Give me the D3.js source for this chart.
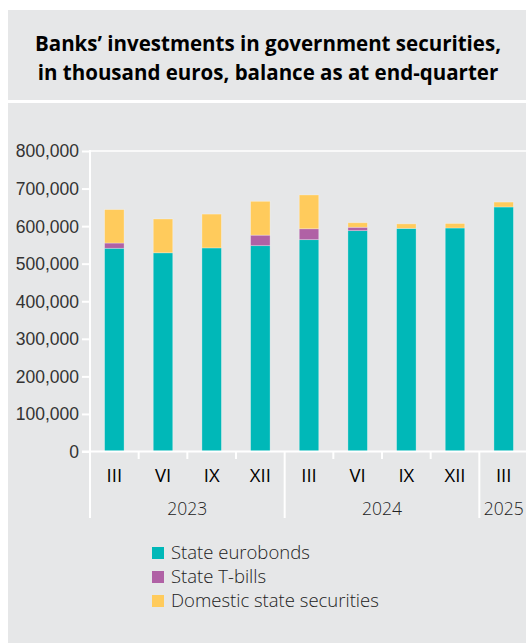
<!DOCTYPE html>
<html lang="en">
<head>
<meta charset="UTF-8">
<title>Banks' investments in government securities</title>
<script src="https://cdn.jsdelivr.net/npm/d3@7/dist/d3.min.js"></script>
<style>
    body { margin: 0; background: #fff; }
    svg { display: block; font-family: "Open Sans", sans-serif; }
    .tick text { fill: #333; }
</style>
</head>
<body>
<div class="chart"></div>
<script>
    // values, thousand euros
    var quarters = ['III', 'VI', 'IX', 'XII', 'III', 'VI', 'IX', 'XII', 'III'];
    var years = ['2023', '2024', '2025'];
    var quarterYear = ['2023', '2023', '2023', '2023', '2024', '2024', '2024', '2024', '2025'];
    var eurobonds = [541000, 529000, 542000, 548000, 564000, 588000, 594000, 595000, 651000];
    var tbills = [14000, 0, 0, 28000, 29000, 9000, 0, 0, 0];
    var domestic = [89000, 90000, 90000, 90000, 90000, 12000, 12000, 12000, 13000];
    var seriesNames = ['State eurobonds', 'State T-bills', 'Domestic state securities'];
    var colors = ['#00b8b8', '#b061a5', '#ffcb5c'];
    var yTicks = [0, 100000, 200000, 300000, 400000, 500000, 600000, 700000, 800000];

    (function() {
        "use strict";

        var W = 526, H = 643;
        var svg = d3.select('.chart').append('svg')
            .attr('width', W)
            .attr('height', H);

        // panels
        svg.append('rect').attr('x', 8).attr('y', 10).attr('width', W - 8).attr('height', 90).attr('fill', '#e6e7e8');
        svg.append('rect').attr('x', 8).attr('y', 103).attr('width', W - 8).attr('height', H - 103).attr('fill', '#e6e7e8');

        var title = svg.append('text')
            .attr('text-anchor', 'middle')
            .attr('font-size', 20.5)
            .attr('font-weight', 'bold')
            .attr('fill', '#000');
        title.append('tspan').attr('x', 268).attr('y', 51).text('Banks\u2019 investments in government securities,');
        title.append('tspan').attr('x', 268).attr('y', 80).text('in thousand euros, balance as at end-quarter');

        var plotL = 90, plotR = 528, plotT = 151, plotB = 451.5;

        var idx = d3.range(quarters.length);
        var x = d3.scaleBand().domain(idx).range([plotL, plotR]).paddingInner(0.6).paddingOuter(0.3);
        var y = d3.scaleLinear().domain([0, 800000]).range([plotB, plotT]);

        var rows = idx.map(function(i) {
            return { i: i, eurobonds: eurobonds[i], tbills: tbills[i], domestic: domestic[i] };
        });
        var stack = d3.stack().keys(['eurobonds', 'tbills', 'domestic'])(rows);

        // top line at 800,000
        svg.append('line')
            .attr('x1', plotL).attr('x2', W)
            .attr('y1', y(800000)).attr('y2', y(800000))
            .attr('stroke', '#fff').attr('stroke-width', 1.5);

        svg.selectAll('g.series').data(stack).enter().append('g')
            .attr('class', 'series')
            .attr('fill', function(d, k) { return colors[k]; })
            .selectAll('rect').data(function(d) { return d.filter(function(p) { return p[1] > p[0]; }); })
            .enter().append('rect')
            .attr('x', function(d) { return x(d.data.i); })
            .attr('width', x.bandwidth())
            .attr('y', function(d) { return y(d[1]); })
            .attr('height', function(d) { return y(d[0]) - y(d[1]); })
            .attr('stroke', 'rgba(255,255,255,0.35)')
            .attr('stroke-width', 0.8);

        // y axis
        var yAxis = svg.append('g')
            .attr('transform', 'translate(' + plotL + ',0)')
            .call(d3.axisLeft(y).tickValues(yTicks).tickSize(8).tickPadding(3).tickFormat(d3.format(',')));
        yAxis.select('.domain').remove();
        yAxis.selectAll('.tick line').attr('stroke', '#fff').attr('stroke-width', 2);
        yAxis.selectAll('.tick text').attr('font-size', 17.5).attr('font-weight', 300).attr('dy', '0.34em');
        svg.append('line')
            .attr('x1', plotL).attr('x2', plotL)
            .attr('y1', plotT - 1).attr('y2', 518)
            .attr('stroke', '#fff').attr('stroke-width', 2);

        // x axis (quarters)
        svg.append('line')
            .attr('x1', plotL - 8).attr('x2', W)
            .attr('y1', plotB).attr('y2', plotB)
            .attr('stroke', '#fff').attr('stroke-width', 2);
        var step = x.step();
        var x0 = x(0) - x.paddingOuter() * step;
        var bounds = d3.range(1, quarters.length);
        svg.selectAll('line.qtick').data(bounds).enter().append('line')
            .attr('class', 'qtick')
            .attr('x1', function(d) { return x0 + d * step; })
            .attr('x2', function(d) { return x0 + d * step; })
            .attr('y1', plotB)
            .attr('y2', function(d) { return quarterYear[d] !== quarterYear[d - 1] ? 518 : 459; })
            .attr('stroke', '#fff').attr('stroke-width', 2);

        svg.selectAll('text.q').data(idx).enter().append('text')
            .attr('class', 'q')
            .attr('x', function(i) { return x(i) + x.bandwidth() / 2; })
            .attr('y', 482)
            .attr('text-anchor', 'middle')
            .attr('font-size', 18.5)
            .attr('font-weight', 400)
            .attr('fill', '#000')
            .text(function(i) { return quarters[i]; });

        svg.selectAll('text.yr').data(years).enter().append('text')
            .attr('class', 'yr')
            .attr('x', function(yr) {
                var ii = idx.filter(function(i) { return quarterYear[i] === yr; });
                var a = x0 + ii[0] * step, b = Math.min(x0 + (ii[ii.length - 1] + 1) * step, W + 10);
                return (a + b) / 2;
            })
            .attr('y', 515)
            .attr('text-anchor', 'middle')
            .attr('font-size', 17.5)
            .attr('font-weight', 300)
            .attr('fill', '#222')
            .text(function(d) { return d; });

        // legend
        var legend = svg.selectAll('g.legend').data(seriesNames).enter().append('g')
            .attr('class', 'legend')
            .attr('transform', function(d, k) { return 'translate(152,' + (547 + k * 24) + ')'; });
        legend.append('rect')
            .attr('width', 12).attr('height', 12)
            .attr('fill', function(d, k) { return colors[k]; });
        legend.append('text')
            .attr('x', 19).attr('y', 6).attr('dy', '0.35em')
            .attr('font-size', 18.5)
            .attr('font-weight', 300)
            .attr('fill', '#222')
            .text(function(d) { return d; });
    })();
</script>
</body>
</html>
